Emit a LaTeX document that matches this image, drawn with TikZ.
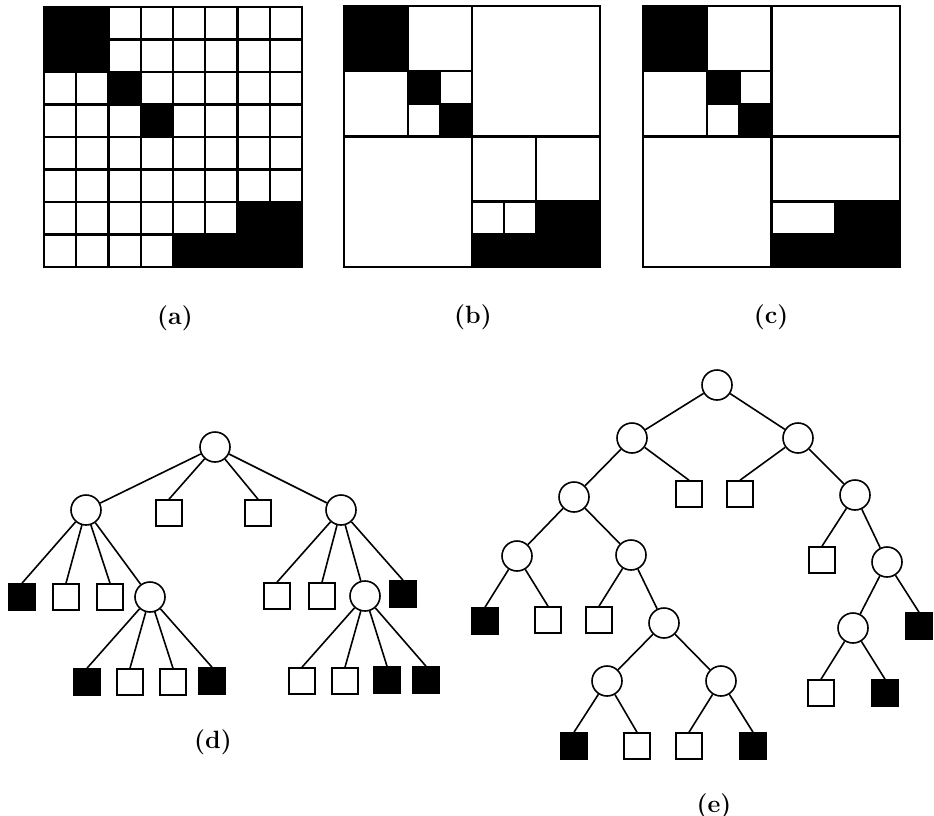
\documentclass[tikz,border=0pt]{standalone}
\begin{document}
\begin{tikzpicture}[x=1pt,y=-1pt,
  cell/.style={draw=black,line width=2.4pt,fill=white},
  blk/.style={fill=black,draw=black,line width=2.4pt},
  inner/.style={circle,draw=black,line width=1.6pt,fill=white,minimum size=30pt,inner sep=0pt},
  wleaf/.style={rectangle,draw=black,line width=1.6pt,fill=white,minimum size=26pt,inner sep=0pt},
  bleaf/.style={wleaf,fill=black},
  edge/.style={line width=1.6pt},
  lab/.style={font=\fontsize{25}{30}\selectfont\bfseries}]
\useasboundingbox (0,0) rectangle (934,816);
% ---------- (a)
\begin{scope}[shift={(44pt,-7pt)},x=32.25pt,y=-32.5pt]
  \fill[blk] (0,0) rectangle (2,2);
  \fill[blk] (2,2) rectangle (3,3);
  \fill[blk] (3,3) rectangle (4,4);
  \fill[blk] (6,6) rectangle (8,8);
  \fill[blk] (4,7) rectangle (6,8);
  \foreach \r in {0,...,7}{
    \foreach \c in {0,...,7}{
      \pgfmathtruncatemacro\isblack{((\c<2) && (\r<2)) || ((\c==2) && (\r==2)) || ((\c==3) && (\r==3)) || ((\c>5) && (\r>5)) || ((\r==7) && (\c>3))}
      \ifnum\isblack=0 \draw[cell] (\c,\r) rectangle ++(1,1);\fi
    }
  }
\end{scope}
% ---------- (b)
\begin{scope}[shift={(344pt,-6pt)},x=32pt,y=-32.6pt]
  \foreach \a/\b/\cc/\d in {0/0/2/2,2/2/3/3,3/3/4/4,4/7/6/8,6/6/8/8}
    \draw[blk] (\a,\b) rectangle (\cc,\d);
  \foreach \a/\b/\cc/\d in {2/0/4/2,0/2/2/4,3/2/4/3,2/3/3/4,4/0/8/4,0/4/4/8,4/4/6/6,6/4/8/6,4/6/5/7,5/6/6/7}
    \draw[cell] (\a,\b) rectangle (\cc,\d);
\end{scope}
% ---------- (c)
\begin{scope}[shift={(643pt,-6pt)},x=32.1pt,y=-32.6pt]
  \foreach \a/\b/\cc/\d in {0/0/2/2,2/2/3/3,3/3/4/4,4/7/6/8,6/6/8/8}
    \draw[blk] (\a,\b) rectangle (\cc,\d);
  \foreach \a/\b/\cc/\d in {2/0/4/2,0/2/2/4,3/2/4/3,2/3/3/4,4/0/8/4,0/4/4/8,4/4/8/6,4/6/6/7}
    \draw[cell] (\a,\b) rectangle (\cc,\d);
\end{scope}
\node[lab] (la) at (175,318) {(a)};
\node[lab] (lb) at (473,317) {(b)};
\node[lab] (lc) at (771,317) {(c)};
% ---------- (d)
\node[inner] (d0) at (215,447) {};
\node[inner] (d1) at (86,510) {};
\node[wleaf] (d2) at (169,513) {};
\node[wleaf] (d3) at (258,513) {};
\node[inner] (d4) at (341,510) {};
\node[bleaf] (d11) at (22,597) {};
\node[wleaf] (d12) at (66,597) {};
\node[wleaf] (d13) at (110,597) {};
\node[inner] (d14) at (150,597) {};
\node[wleaf] (d41) at (277,596) {};
\node[wleaf] (d42) at (322,596) {};
\node[inner] (d43) at (365,596) {};
\node[bleaf] (d44) at (403,594) {};
\node[bleaf] (d141) at (87,682) {};
\node[wleaf] (d142) at (130,682) {};
\node[wleaf] (d143) at (173,682) {};
\node[bleaf] (d144) at (212,681) {};
\node[wleaf] (d431) at (302,681) {};
\node[wleaf] (d432) at (345,681) {};
\node[bleaf] (d433) at (387,680) {};
\node[bleaf] (d434) at (426,680) {};
\draw[edge] (d0) -- (d1);
\draw[edge] (d0) -- (d2.north);
\draw[edge] (d0) -- (d3.north);
\draw[edge] (d0) -- (d4);
\draw[edge] (d1) -- (d11.north);
\draw[edge] (d1) -- (d12.north);
\draw[edge] (d1) -- (d13.north);
\draw[edge] (d1) -- (d14);
\draw[edge] (d4) -- (d41.north);
\draw[edge] (d4) -- (d42.north);
\draw[edge] (d4) -- (d43);
\draw[edge] (d4) -- (d44.north);
\draw[edge] (d14) -- (d141.north);
\draw[edge] (d14) -- (d142.north);
\draw[edge] (d14) -- (d143.north);
\draw[edge] (d14) -- (d144.north);
\draw[edge] (d43) -- (d431.north);
\draw[edge] (d43) -- (d432.north);
\draw[edge] (d43) -- (d433.north);
\draw[edge] (d43) -- (d434.north);
\node[lab] (ld) at (213,742) {(d)};
% ---------- (e)
\node[inner] (e0) at (717,385) {};
\node[inner] (e1) at (632,438) {};
\node[inner] (e2) at (798,438) {};
\node[inner] (e11) at (574,497) {};
\node[wleaf] (e12) at (689,494) {};
\node[wleaf] (e21) at (740,494) {};
\node[inner] (e22) at (855,495) {};
\node[inner] (e111) at (517,556) {};
\node[inner] (e112) at (631,555) {};
\node[wleaf] (e221) at (822,560) {};
\node[inner] (e222) at (887,562) {};
\node[bleaf] (e1111) at (485,621) {};
\node[wleaf] (e1112) at (548,620) {};
\node[wleaf] (e1121) at (599,620) {};
\node[inner] (e1122) at (664,623) {};
\node[inner] (e2221) at (853,628) {};
\node[bleaf] (e2222) at (919,626) {};
\node[inner] (e11221) at (607,681) {};
\node[inner] (e11222) at (721,681) {};
\node[wleaf] (e22211) at (821,693) {};
\node[bleaf] (e22212) at (885,693) {};
\node[bleaf] (e112211) at (574,746) {};
\node[wleaf] (e112212) at (637,746) {};
\node[wleaf] (e112221) at (689,746) {};
\node[bleaf] (e112222) at (753,746) {};
\draw[edge] (e0) -- (e1);
\draw[edge] (e0) -- (e2);
\draw[edge] (e1) -- (e11);
\draw[edge] (e1) -- (e12.north);
\draw[edge] (e2) -- (e21.north);
\draw[edge] (e2) -- (e22);
\draw[edge] (e11) -- (e111);
\draw[edge] (e11) -- (e112);
\draw[edge] (e22) -- (e221.north);
\draw[edge] (e22) -- (e222);
\draw[edge] (e111) -- (e1111.north);
\draw[edge] (e111) -- (e1112.north);
\draw[edge] (e112) -- (e1121.north);
\draw[edge] (e112) -- (e1122);
\draw[edge] (e222) -- (e2221);
\draw[edge] (e222) -- (e2222.north);
\draw[edge] (e1122) -- (e11221);
\draw[edge] (e1122) -- (e11222);
\draw[edge] (e2221) -- (e22211.north);
\draw[edge] (e2221) -- (e22212.north);
\draw[edge] (e11221) -- (e112211.north);
\draw[edge] (e11221) -- (e112212.north);
\draw[edge] (e11222) -- (e112221.north);
\draw[edge] (e11222) -- (e112222.north);
\node[lab] (le) at (714,806) {(e)};
\end{tikzpicture}
\end{document}
